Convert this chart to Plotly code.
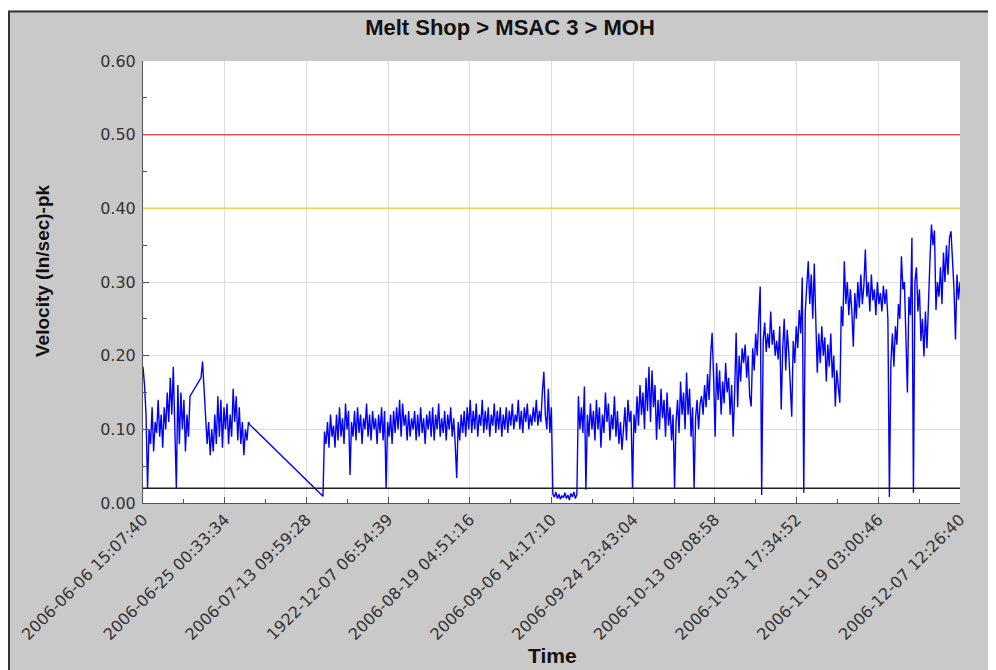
import pandas as pd
import plotly.graph_objects as go

# ---------------- data ----------------
chart_title = "Melt Shop > MSAC 3 > MOH"
y_title = "Velocity (In/sec)-pk"
x_title = "Time"

tick_text = [
    "2006-06-06 15:07:40", "2006-06-25 00:33:34", "2006-07-13 09:59:28",
    "1922-12-07 06:54:39", "2006-08-19 04:51:16", "2006-09-06 14:17:10",
    "2006-09-24 23:43:04", "2006-10-13 09:08:58", "2006-10-31 17:34:52",
    "2006-11-19 03:00:46", "2006-12-07 12:26:40",
]
# equally spaced tick instants (labels after 29 Oct are shown in winter time)
tick_pos = [
    "2006-06-06 15:07:40", "2006-06-25 00:33:34", "2006-07-13 09:59:28",
    "2006-07-31 19:25:22", "2006-08-19 04:51:16", "2006-09-06 14:17:10",
    "2006-09-24 23:43:04", "2006-10-13 09:08:58", "2006-10-31 18:34:52",
    "2006-11-19 04:00:46", "2006-12-07 13:26:40",
]

threshold_values = [0.50, 0.40, 0.02]
threshold_colors = ["#d45656", "#ecd848", "#1e1e1e"]

seg_a_start, seg_a_end = "2006-06-06 15:07:40", "2006-06-17 05:00:00"
seg_a_values = [0.185, 0.16, 0.12, 0.02, 0.10, 0.08, 0.13, 0.07, 0.11, 0.095,
                0.14, 0.09, 0.12, 0.075, 0.13, 0.10, 0.15, 0.11, 0.17, 0.12,
                0.185, 0.09, 0.02, 0.16, 0.08, 0.15, 0.10, 0.14, 0.07, 0.12,
                0.09, 0.145]

seg_b_start, seg_b_end = "2006-06-19 16:34:00", "2006-06-30 17:17:00"
seg_b_values = [0.17, 0.192, 0.15, 0.12, 0.08, 0.11, 0.065, 0.10, 0.07, 0.12,
                0.08, 0.145, 0.09, 0.14, 0.075, 0.13, 0.10, 0.135, 0.08, 0.12,
                0.09, 0.155, 0.11, 0.145, 0.085, 0.13, 0.08, 0.11, 0.065, 0.10,
                0.085, 0.11, 0.106]

seg_c_start, seg_c_end = "2006-07-17 03:36:00", "2006-12-07 13:26:40"
seg_c_values = [
    0.009, 0.097, 0.08, 0.11, 0.075, 0.12, 0.09, 0.105, 0.075, 0.12, 0.085, 0.13, 0.09, 0.115, 0.08, 0.135, 0.10, 0.125, 0.038, 0.11,
    0.09, 0.125, 0.085, 0.13, 0.095, 0.12, 0.08, 0.115, 0.10, 0.135, 0.09, 0.12, 0.085, 0.125, 0.10, 0.115, 0.08, 0.12, 0.095, 0.13,
    0.085, 0.125, 0.02, 0.11, 0.09, 0.12, 0.08, 0.125, 0.095, 0.13, 0.10, 0.14, 0.09, 0.135, 0.105, 0.12, 0.085, 0.125, 0.09, 0.115,
    0.10, 0.125, 0.085, 0.12, 0.09, 0.13, 0.095, 0.115, 0.08, 0.12, 0.10, 0.125, 0.09, 0.13, 0.085, 0.12, 0.10, 0.135, 0.09, 0.115,
    0.095, 0.125, 0.085, 0.12, 0.10, 0.13, 0.09, 0.115, 0.08, 0.034, 0.11, 0.085, 0.12, 0.095, 0.125, 0.09, 0.13, 0.10, 0.14, 0.095,
    0.125, 0.10, 0.135, 0.09, 0.12, 0.105, 0.14, 0.095, 0.125, 0.10, 0.13, 0.09, 0.12, 0.105, 0.135, 0.095, 0.125, 0.10, 0.13, 0.09,
    0.12, 0.10, 0.13, 0.095, 0.125, 0.105, 0.135, 0.10, 0.12, 0.11, 0.14, 0.10, 0.125, 0.095, 0.13, 0.11, 0.135, 0.10, 0.12, 0.105,
    0.13, 0.11, 0.14, 0.105, 0.125, 0.11, 0.15, 0.178, 0.12, 0.10, 0.155, 0.095, 0.13, 0.012, 0.008, 0.015, 0.006, 0.012, 0.005, 0.01,
    0.007, 0.014, 0.006, 0.011, 0.004, 0.013, 0.008, 0.015, 0.006, 0.012, 0.145, 0.10, 0.13, 0.095, 0.158, 0.018, 0.12, 0.09, 0.135, 0.10,
    0.125, 0.085, 0.14, 0.10, 0.13, 0.075, 0.12, 0.095, 0.15, 0.11, 0.135, 0.085, 0.12, 0.10, 0.145, 0.09, 0.125, 0.08, 0.11, 0.072,
    0.10, 0.13, 0.085, 0.14, 0.11, 0.125, 0.02, 0.12, 0.095, 0.145, 0.105, 0.16, 0.12, 0.15, 0.10, 0.17, 0.125, 0.185, 0.11, 0.18,
    0.13, 0.16, 0.086, 0.14, 0.10, 0.155, 0.115, 0.14, 0.09, 0.15, 0.105, 0.13, 0.085, 0.12, 0.02, 0.11, 0.14, 0.095, 0.165, 0.12,
    0.15, 0.10, 0.177, 0.12, 0.155, 0.09, 0.13, 0.02, 0.115, 0.14, 0.10, 0.135, 0.145, 0.12, 0.16, 0.13, 0.175, 0.14, 0.20, 0.231,
    0.17, 0.09, 0.19, 0.14, 0.18, 0.12, 0.165, 0.135, 0.19, 0.15, 0.17, 0.12, 0.16, 0.09, 0.15, 0.231, 0.13, 0.20, 0.165, 0.21,
    0.19, 0.215, 0.17, 0.20, 0.145, 0.131, 0.21, 0.18, 0.23, 0.20, 0.25, 0.294, 0.011, 0.22, 0.245, 0.205, 0.23, 0.21, 0.26, 0.215,
    0.235, 0.20, 0.22, 0.195, 0.24, 0.127, 0.21, 0.25, 0.18, 0.235, 0.205, 0.16, 0.117, 0.22, 0.19, 0.24, 0.21, 0.262, 0.23, 0.306,
    0.014, 0.26, 0.30, 0.328, 0.27, 0.31, 0.25, 0.325, 0.249, 0.177, 0.23, 0.19, 0.24, 0.20, 0.225, 0.165, 0.215, 0.185, 0.23, 0.17,
    0.20, 0.131, 0.18, 0.155, 0.136, 0.267, 0.24, 0.328, 0.27, 0.30, 0.255, 0.29, 0.26, 0.212, 0.285, 0.25, 0.30, 0.265, 0.31, 0.27,
    0.295, 0.344, 0.28, 0.30, 0.26, 0.31, 0.275, 0.29, 0.255, 0.30, 0.27, 0.285, 0.26, 0.295, 0.27, 0.29, 0.25, 0.008, 0.19, 0.23,
    0.185, 0.24, 0.215, 0.27, 0.25, 0.335, 0.29, 0.30, 0.23, 0.15, 0.28, 0.255, 0.36, 0.014, 0.30, 0.32, 0.26, 0.29, 0.22, 0.25,
    0.199, 0.26, 0.21, 0.29, 0.33, 0.378, 0.35, 0.37, 0.262, 0.30, 0.28, 0.32, 0.27, 0.34, 0.30, 0.35, 0.31, 0.36, 0.369, 0.33,
    0.29, 0.222, 0.31, 0.276, 0.30,
]

# ---------------- build series ----------------
segments = [
    (seg_a_start, seg_a_end, seg_a_values),
    (seg_b_start, seg_b_end, seg_b_values),
    (seg_c_start, seg_c_end, seg_c_values),
]
times, values = [], []
for s, e, vals in segments:
    times.extend(pd.date_range(s, e, periods=len(vals)))
    values.extend(vals)

tp = pd.to_datetime(tick_pos)
minor_x = [(tp[i] + (tp[i + 1] - tp[i]) / 2).strftime("%Y-%m-%d %H:%M:%S")
           for i in range(len(tp) - 1)]

# ---------------- figure ----------------
# The page body has an 8px margin, so the figure starts at (8, 8) of the window.
OFF = 8
W, H = 996 - OFF, 670 - OFF
L, R, T, B = 143 - OFF, 36, 61 - OFF, 167
pw, ph = W - L - R, H - T - B


def px(x):  # window pixel x -> paper x
    return (x - OFF - L) / pw


def py(y):  # window pixel y -> paper y
    return (H - B - (y - OFF)) / ph


fig = go.Figure()
fig.add_trace(go.Scatter(x=times, y=values, mode="lines",
                         line=dict(color="#0000ff", width=1.4),
                         hoverinfo="x+y"))

shapes = []
for v, c in zip(threshold_values, threshold_colors):
    shapes.append(dict(type="line", xref="paper", yref="y", x0=0, x1=1,
                       y0=v, y1=v, line=dict(color=c, width=1.5),
                       layer="above"))
# white top strip and dark frame of the chart image
shapes += [
    dict(type="rect", xref="paper", yref="paper", x0=-0.3, x1=1.2,
         y0=py(10.5), y1=py(0), fillcolor="white", line=dict(width=0)),
    dict(type="line", xref="paper", yref="paper", x0=px(8), x1=1.2,
         y0=py(11.5), y1=py(11.5), line=dict(color="#333333", width=2)),
    dict(type="line", xref="paper", yref="paper", x0=px(9), x1=px(9),
         y0=py(700), y1=py(11.5), line=dict(color="#333333", width=2)),
]

tick_font = dict(family="DejaVu Sans", size=16, color="#333333")
label_font = dict(family="Liberation Sans, Arial, sans-serif", size=20,
                  color="#111111")

fig.update_layout(
    width=W, height=H,
    paper_bgcolor="#c9c9c9", plot_bgcolor="white",
    margin=dict(l=L, r=R, t=T, b=B, autoexpand=False),
    showlegend=False,
    shapes=shapes,
    title=dict(text="<b>" + chart_title + "</b>", x=(510 - OFF) / W,
               xref="container", xanchor="center",
               y=1 - (27 - OFF) / H, yref="container", yanchor="middle",
               font=dict(family="Liberation Sans, Arial, sans-serif",
                         size=22, color="#111111")),
    annotations=[
        dict(text="<b>" + y_title + "</b>", xref="paper", yref="paper",
             x=px(42), y=py(271), textangle=-90, showarrow=False,
             xanchor="center", yanchor="middle",
             font=dict(label_font, size=19)),
        dict(text="<b>" + x_title + "</b>", xref="paper", yref="paper",
             x=px(552), y=py(655), showarrow=False,
             xanchor="center", yanchor="middle",
             font=dict(label_font, size=21)),
    ],
    xaxis=dict(
        type="date", range=[tick_pos[0], tick_pos[-1]],
        tickmode="array", tickvals=tick_pos, ticktext=tick_text,
        tickangle=-45, tickfont=tick_font,
        ticks="inside", ticklen=6, tickcolor="#555555",
        showline=True, linecolor="#555555", linewidth=1,
        showgrid=True, gridcolor="#dddddd", gridwidth=1, zeroline=False,
        minor=dict(tickvals=minor_x, ticks="inside", ticklen=4,
                   tickcolor="#555555", showgrid=False),
    ),
    yaxis=dict(
        range=[0, 0.6], tickmode="linear", tick0=0, dtick=0.1,
        tickformat=".2f", tickfont=tick_font,
        ticks="inside", ticklen=6, tickcolor="#555555",
        showline=True, linecolor="#555555", linewidth=1,
        showgrid=True, gridcolor="#dddddd", gridwidth=1, zeroline=False,
        ticklabelstandoff=3,
        minor=dict(dtick=0.05, ticks="inside", ticklen=4,
                   tickcolor="#555555", showgrid=False),
    ),
)

fig.write_html("out.html")
